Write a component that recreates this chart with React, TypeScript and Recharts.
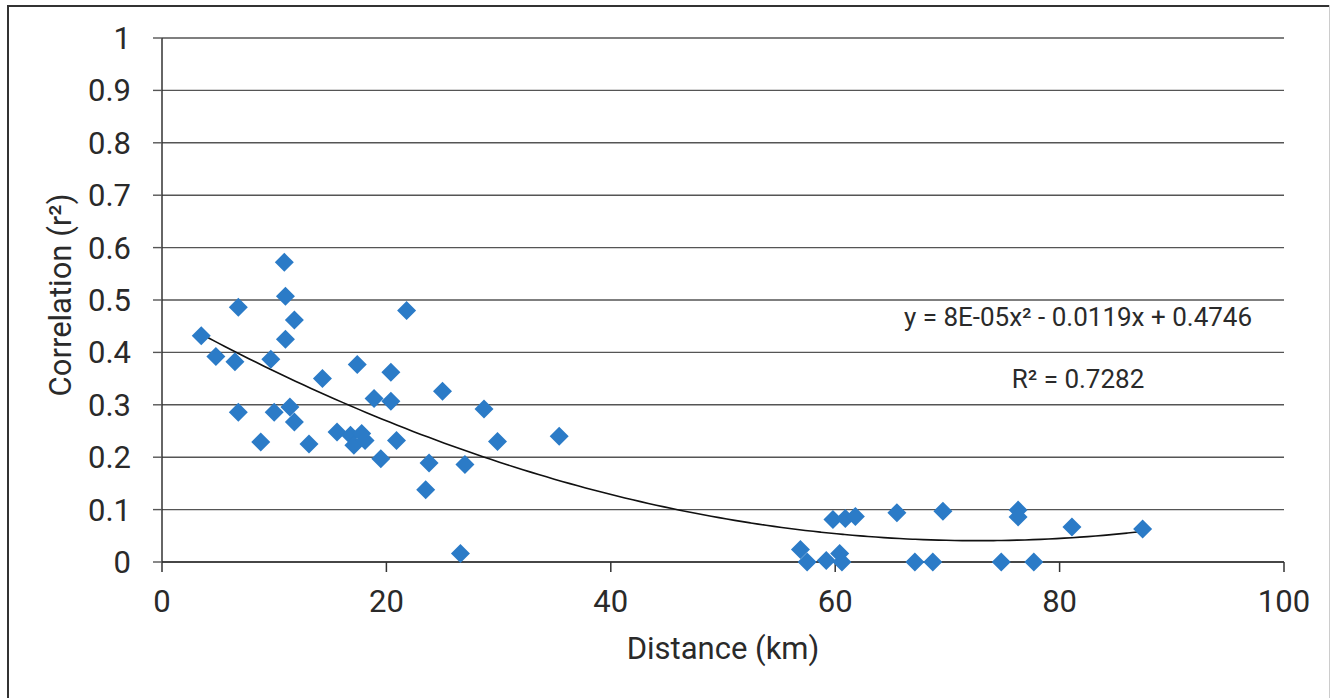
import React from "react";
import { ComposedChart, Scatter, Line, XAxis, YAxis, CartesianGrid } from "recharts";

const distances: number[] = [
  3.5, 4.8, 6.8, 6.5, 6.8, 8.8, 9.7, 10.0, 10.9, 11.0, 11.0, 11.8, 11.4, 11.8,
  13.1, 14.3, 15.6, 16.8, 17.1, 17.8, 18.1, 17.4, 18.9, 20.4, 20.4, 20.9, 19.5,
  21.8, 23.8, 23.5, 25.0, 27.0, 26.6, 28.7, 29.9, 35.4,
  56.9, 57.5, 59.2, 60.4, 60.6, 59.8, 60.9, 61.8, 65.5, 67.1, 68.7, 69.6, 74.8,
  76.3, 76.3, 77.7, 81.1, 87.4,
];
const correlations: number[] = [
  0.432, 0.392, 0.486, 0.382, 0.286, 0.229, 0.387, 0.286, 0.572, 0.507, 0.425,
  0.462, 0.296, 0.267, 0.225, 0.35, 0.248, 0.242, 0.223, 0.245, 0.232, 0.377,
  0.312, 0.362, 0.307, 0.232, 0.197, 0.48, 0.189, 0.138, 0.326, 0.186, 0.016,
  0.292, 0.23, 0.24,
  0.024, 0.0, 0.003, 0.016, 0.0, 0.081, 0.083, 0.087, 0.094, 0.0, 0.0, 0.097,
  0.0, 0.099, 0.086, 0.0, 0.067, 0.063,
];
const xTicks: number[] = [0, 20, 40, 60, 80, 100];
const yTicks: number[] = [0, 0.1, 0.2, 0.3, 0.4, 0.5, 0.6, 0.7, 0.8, 0.9, 1];
const equationText = "y = 8E-05x² - 0.0119x + 0.4746";
const r2Text = "R² = 0.7282";
const xTitle = "Distance (km)";
const yTitle = "Correlation (r²)";

const points = distances.map((x, i) => ({ x, y: correlations[i] }));

// least-squares quadratic fit of the data (the chart's trendline)
function fitQuadratic(xs: number[], ys: number[]) {
  const n = xs.length;
  let s0 = n, s1 = 0, s2 = 0, s3 = 0, s4 = 0, t0 = 0, t1 = 0, t2 = 0;
  for (let i = 0; i < n; i++) {
    const x = xs[i], y = ys[i];
    s1 += x; s2 += x * x; s3 += x * x * x; s4 += x * x * x * x;
    t0 += y; t1 += x * y; t2 += x * x * y;
  }
  const M = [
    [s4, s3, s2, t2],
    [s3, s2, s1, t1],
    [s2, s1, s0, t0],
  ];
  for (let c = 0; c < 3; c++) {
    for (let r = c + 1; r < 3; r++) {
      const f = M[r][c] / M[c][c];
      for (let k = c; k < 4; k++) M[r][k] -= f * M[c][k];
    }
  }
  const sol = [0, 0, 0];
  for (let r = 2; r >= 0; r--) {
    let v = M[r][3];
    for (let k = r + 1; k < 3; k++) v -= M[r][k] * sol[k];
    sol[r] = v / M[r][r];
  }
  return sol; // a, b, c
}

const [qa, qb, qc] = fitQuadratic(distances, correlations);
const xMin = Math.min(...distances);
const xMax = Math.max(...distances);
const trend: { x: number; y: number }[] = [];
for (let x = xMin; x <= xMax + 1e-9; x += (xMax - xMin) / 120) {
  trend.push({ x, y: qa * x * x + qb * x + qc });
}

const BLUE = "#2B7BC7";
const FONT = "Roboto, 'Noto Sans', sans-serif";
const TEXT = "#2a2a2a";

const Diamond = (props: any) => {
  const { cx, cy } = props;
  if (cx == null || cy == null) return null;
  const h = 9.5;
  return (
    <path
      d={`M${cx},${cy - h} L${cx + h},${cy} L${cx},${cy + h} L${cx - h},${cy} Z`}
      fill={BLUE}
    />
  );
};

const XTitle = (props: any) => {
  const vb = props.viewBox || {};
  return (
    <text x={vb.x + vb.width / 2} y={659} textAnchor="middle" fill={TEXT} fontSize={31} fontFamily={FONT}>
      {xTitle}
    </text>
  );
};

const YTitle = (props: any) => {
  const vb = props.viewBox || {};
  const cy = vb.y + vb.height / 2 - 5;
  return (
    <text x={71} y={cy} textAnchor="middle" fill={TEXT} fontSize={31} fontFamily={FONT} transform={`rotate(-90, 71, ${cy})`}>
      {yTitle}
    </text>
  );
};

const line = (s: React.CSSProperties): React.CSSProperties => ({
  position: "absolute",
  zIndex: 5,
  pointerEvents: "none",
  ...s,
});

export default function App() {
  return (
    <div style={{ position: "absolute", left: 0, top: 0, width: 1338, height: 698, background: "#fff", overflow: "hidden" }}>
      <ComposedChart
        width={1338}
        height={698}
        margin={{ top: 38, right: 54, bottom: 76, left: 0 }}
      >
        <CartesianGrid horizontal vertical={false} stroke="#555" strokeWidth={1.4} />
        <XAxis
          dataKey="x"
          type="number"
          domain={[0, 100]}
          ticks={xTicks}
          height={60}
          axisLine={{ stroke: "#333", strokeWidth: 1.5 }}
          tickLine={{ stroke: "#333", strokeWidth: 1.5 }}
          tickSize={10}
          tickMargin={18}
          tick={{ fill: TEXT, fontSize: 31, fontFamily: FONT }}
          label={<XTitle />}
        />
        <YAxis
          dataKey="y"
          type="number"
          domain={[0, 1]}
          ticks={yTicks}
          width={162}
          axisLine={{ stroke: "#333", strokeWidth: 1.5 }}
          tickLine={{ stroke: "#555", strokeWidth: 1.4 }}
          tickSize={9}
          tickMargin={22}
          tick={{ fill: TEXT, fontSize: 31, fontFamily: FONT }}
          label={<YTitle />}
        />
        <Scatter data={points} dataKey="y" shape={<Diamond />} isAnimationActive={false} />
        <Line
          data={trend}
          dataKey="y"
          type="monotone"
          stroke="#111"
          strokeWidth={1.6}
          dot={false}
          activeDot={false}
          isAnimationActive={false}
        />
      </ComposedChart>
      <div
        style={{
          position: "absolute",
          left: 878,
          width: 400,
          top: 301,
          textAlign: "center",
          fontFamily: FONT,
          fontSize: 26,
          color: TEXT,
          lineHeight: "32px",
          whiteSpace: "nowrap",
        }}
      >
        {equationText}
      </div>
      <div
        style={{
          position: "absolute",
          left: 878,
          width: 400,
          top: 363,
          textAlign: "center",
          fontFamily: FONT,
          fontSize: 26,
          color: TEXT,
          lineHeight: "32px",
          whiteSpace: "nowrap",
        }}
      >
        {r2Text}
      </div>
      <div style={line({ left: 7, top: 5, width: 1323, height: 2, background: "#333" })} />
      <div style={line({ left: 7, top: 5, width: 2, height: 693, background: "#333" })} />
      <div style={line({ left: 1329, top: 5, width: 1, height: 693, background: "#ccc" })} />
    </div>
  );
}
